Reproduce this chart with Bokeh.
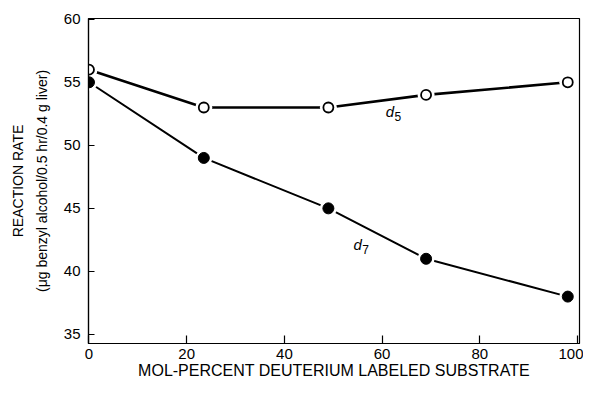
from bokeh.plotting import figure
from bokeh.models import Range1d, LinearAxis, FixedTicker, Label
from bokeh.embed import file_html
from bokeh.resources import INLINE

# data
mol_percent = [0, 23.5, 49, 69, 98]
rate_d5 = [56, 53, 53, 54, 55]
rate_d7 = [55, 49, 45, 41, 38]
x_ticks = [0, 20, 40, 60, 80, 100]
y_ticks = [35, 40, 45, 50, 55, 60]
series_names = ["5", "7"]
name_x = [61.6, 55.0]
name_y = [52.7, 42.1]

FONT = "Liberation Sans"

p = figure(width=583, height=381, output_backend="svg", toolbar_location=None,
           x_range=Range1d(-0.1, 100.4), y_range=Range1d(34.28, 60.06),
           min_border_left=88, min_border_right=4, min_border_top=18, min_border_bottom=30)
p.grid.visible = False
p.outline_line_color = "black"
p.outline_line_width = 1.2
p.background_fill_color = "white"
p.border_fill_color = "white"

# lines
p.line(mol_percent, rate_d5, line_color="black", line_width=2.6)
p.line(mol_percent, rate_d7, line_color="black", line_width=2.0)
# white halos make the small gaps between lines and markers
p.scatter(mol_percent, rate_d5, size=17, fill_color="white", line_color=None)
p.scatter(mol_percent, rate_d7, size=17, fill_color="white", line_color=None)
# markers
p.scatter(mol_percent, rate_d5, size=10, fill_color="white", line_color="black", line_width=1.8)
p.scatter(mol_percent, rate_d7, size=11, fill_color="black", line_color="black")

# series labels
for nm, lx, ly in zip(series_names, name_x, name_y):
    p.add_layout(Label(x=lx, y=ly, text="d", text_font=FONT, text_font_style="italic",
                       text_font_size="15px", text_color="black", text_align="center",
                       text_baseline="middle"))
    p.add_layout(Label(x=lx, y=ly, x_offset=8, y_offset=-5, text=nm, text_font=FONT,
                       text_font_size="12px", text_color="black", text_align="center",
                       text_baseline="middle"))

# x axis
xa = p.xaxis[0]
xa.ticker = FixedTicker(ticks=x_ticks)
xa.major_tick_in = 8
xa.major_tick_out = 0
xa.minor_tick_line_color = None
xa.axis_line_color = "black"
xa.axis_line_width = 1.2
xa.major_tick_line_width = 1.2
xa.major_label_text_font = FONT
xa.major_label_text_font_size = "15px"
xa.major_label_text_color = "black"
xa.major_label_standoff = 5
xa.axis_label = "MOL-PERCENT DEUTERIUM LABELED SUBSTRATE"
xa.axis_label_text_font = FONT
xa.axis_label_text_font_size = "16px"
xa.axis_label_text_font_style = "normal"
xa.axis_label_text_color = "black"
xa.axis_label_standoff = 0

# y axis
ya = p.yaxis[0]
ya.ticker = FixedTicker(ticks=y_ticks)
ya.major_tick_in = 6
ya.major_tick_out = 0
ya.minor_tick_line_color = None
ya.axis_line_color = "black"
ya.axis_line_width = 1.2
ya.major_tick_line_width = 1.2
ya.major_label_text_font = FONT
ya.major_label_text_font_size = "15px"
ya.major_label_text_color = "black"
ya.major_label_standoff = 8
ya.axis_label = "(\u03bcg benzyl alcohol/0.5 hr/0.4 g liver)"
ya.axis_label_text_font = FONT
ya.axis_label_text_font_size = "14px"
ya.axis_label_text_font_style = "normal"
ya.axis_label_text_color = "black"
ya.axis_label_standoff = 11

ya2 = LinearAxis(ticker=FixedTicker(ticks=[]), axis_line_color=None,
                 major_tick_in=0, major_tick_out=0, minor_tick_in=0, minor_tick_out=0,
                 major_label_standoff=0, major_label_text_font_size="0px",
                 axis_label="REACTION RATE", axis_label_text_font=FONT,
                 axis_label_text_font_size="14px", axis_label_text_font_style="normal",
                 axis_label_text_color="black", axis_label_standoff=5)
p.add_layout(ya2, "left")

open("out.html", "w").write(file_html(p, INLINE))
